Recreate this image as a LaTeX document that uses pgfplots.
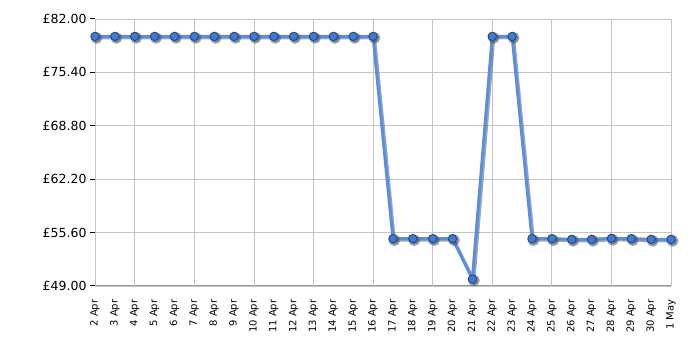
\documentclass[border=0pt]{standalone}
\usepackage{fontspec}
\setmainfont{DejaVu Sans}
\usepackage{pgfplots}
\usepackage{pgfplotstable}
\pgfplotsset{compat=1.18}
\definecolor{lineblue}{HTML}{5590E4}
\definecolor{markfill}{HTML}{3D7BD6}
\definecolor{markedge}{HTML}{1F4A85}
\definecolor{shadowgray}{HTML}{5A5A5A}
\definecolor{gridgray}{HTML}{C4C4C4}
\definecolor{axisgray}{HTML}{959595}
\pgfplotstableread{
x y
0 79.85
1 79.85
2 79.85
3 79.85
4 79.85
5 79.85
6 79.85
7 79.85
8 79.85
9 79.85
10 79.85
11 79.85
12 79.85
13 79.85
14 79.85
15 54.85
16 54.85
17 54.85
18 54.85
19 49.87
20 79.85
21 79.85
22 54.85
23 54.85
24 54.77
25 54.77
26 54.89
27 54.85
28 54.77
29 54.77
}\pricedata
\begin{document}
\begin{tikzpicture}[x=1pt,y=1pt]
\path[use as bounding box] (0,0) rectangle (700,350);
\begin{axis}[
  at={(95pt,64pt)}, anchor=south west,
  scale only axis, width=576pt, height=267pt,
  xmin=0, xmax=29, ymin=49, ymax=82,
  axis x line*=bottom, axis y line*=left,
  axis line style={draw=axisgray, line width=1pt, -},
  tick align=outside,
  major tick length=5pt,
  /pgf/number format/assume math mode=true,
  ytick={49,55.6,62.2,68.8,75.4,82},
  yticklabels={£49.00,£55.60,£62.20,£68.80,£75.40,£82.00},
  ymajorgrids,
  grid style={draw=gridgray, line width=0.8pt},
  ytick style={draw=black, line width=1pt},
  yticklabel style={font=\fontsize{12.5}{14}\selectfont, text=black},
  xtick={0,...,29},
  xticklabels={2 Apr,3 Apr,4 Apr,5 Apr,6 Apr,7 Apr,8 Apr,9 Apr,10 Apr,11 Apr,12 Apr,13 Apr,14 Apr,15 Apr,16 Apr,17 Apr,18 Apr,19 Apr,20 Apr,21 Apr,22 Apr,23 Apr,24 Apr,25 Apr,26 Apr,27 Apr,28 Apr,29 Apr,30 Apr,1 May},
  xtick style={draw=none},
  xticklabel shift=5pt,
  xticklabel style={rotate=90, anchor=east, font=\fontsize{10}{12}\selectfont, text=black},
  extra x ticks={0,2,5,8,11,14,17,20,23,26,29},
  extra x tick labels={},
  extra x tick style={grid=major, tick style={draw=black, line width=1pt}},
  clip=false,
]
\addplot[draw=shadowgray, opacity=0.55, line width=3pt, xshift=1.5pt, yshift=-1.5pt,
  mark=*, mark size=4.3pt, mark options={fill=shadowgray, draw=none}] table[x=x,y=y] {\pricedata};
\addplot[draw=lineblue, line width=3pt,
  mark=*, mark size=4.2pt, mark options={fill=markfill, draw=markedge, line width=0.9pt}] table[x=x,y=y] {\pricedata};
\end{axis}
\end{tikzpicture}
\end{document}
